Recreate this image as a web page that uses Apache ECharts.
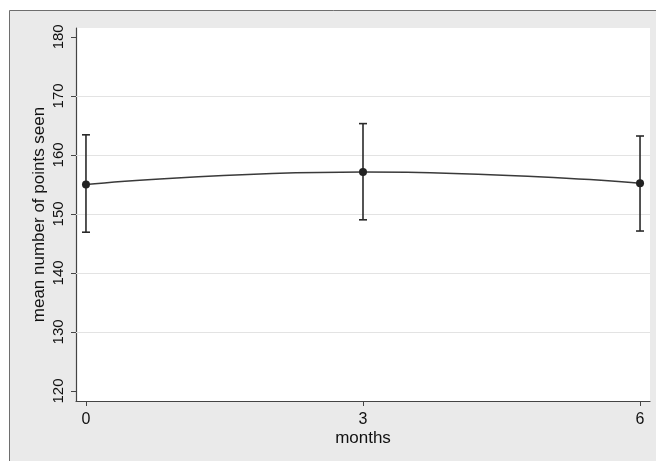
<!DOCTYPE html>
<html><head><meta charset="utf-8">
<script src="https://cdn.jsdelivr.net/npm/echarts@6/dist/echarts.min.js"></script>
<style>html,body{margin:0;padding:0;background:#fff}#c{width:656px;height:461px}</style>
</head><body><div id="c"></div>
<script>
const months = [0, 3, 6];
const meanValues = [155.0, 157.1, 155.2];
const lowerCI = [146.9, 149.0, 147.1];
const upperCI = [163.4, 165.3, 163.2];
const yTicks = [120, 130, 140, 150, 160, 170, 180];
const yGridLines = [130, 140, 150, 160, 170];
const xTicks = [0, 3, 6];

const chart = echarts.init(document.getElementById('c'));
const ff = '"Liberation Sans", Arial, sans-serif';
chart.setOption({
  animation: false,
  backgroundColor: '#fff',
  graphic: [{
    type: 'rect', z: -10, silent: true,
    shape: {x: 9.5, y: 10.5, width: 660, height: 460},
    style: {fill: '#eaeaea', stroke: '#6e6e6e', lineWidth: 1}
  }],
  grid: {left: 76, top: 28, right: 6, bottom: 60, show: true, backgroundColor: '#fff', borderWidth: 0},
  xAxis: {
    type: 'value', min: -0.108, max: 6.108,
    name: 'months', nameLocation: 'middle', nameGap: 29, nameMoveOverlap: false,
    nameTextStyle: {fontFamily: ff, fontSize: 17, color: '#111'},
    axisLine: {show: true, onZero: false, lineStyle: {color: '#444', width: 1.2}},
    axisTick: {show: true, customValues: xTicks, length: 5, lineStyle: {color: '#444'}},
    axisLabel: {customValues: xTicks, fontFamily: ff, fontSize: 16, color: '#111', margin: 11},
    splitLine: {show: false}
  },
  yAxis: {
    type: 'value', min: 118.3, max: 181.5,
    name: 'mean number of points seen', nameLocation: 'middle', nameGap: 28, nameRotate: 90,
    nameMoveOverlap: false,
    nameTextStyle: {fontFamily: ff, fontSize: 17, color: '#111'},
    axisLine: {show: true, onZero: false, lineStyle: {color: '#444', width: 1.2}},
    axisTick: {show: true, customValues: yTicks, length: 5, lineStyle: {color: '#444'}},
    axisLabel: {customValues: yTicks, rotate: 90, fontFamily: ff, fontSize: 15, color: '#111', margin: 10},
    splitLine: {show: false}
  },
  series: [
    {
      type: 'line', smooth: true, symbol: 'circle', symbolSize: 8,
      data: months.map((m, i) => [m, meanValues[i]]),
      lineStyle: {color: '#3a3a3a', width: 1.5},
      itemStyle: {color: '#222'},
      z: 5,
      markLine: {
        silent: true, symbol: 'none', label: {show: false},
        lineStyle: {color: '#e3e3e3', width: 1.2, type: 'solid'},
        data: yGridLines.map(v => ({yAxis: v})),
        z: 1
      }
    },
    {
      type: 'custom', z: 4,
      data: months.map((m, i) => [m, lowerCI[i], upperCI[i]]),
      renderItem: function (params, api) {
        const lo = api.coord([api.value(0), api.value(1)]);
        const hi = api.coord([api.value(0), api.value(2)]);
        const w = 4;
        const st = {stroke: '#2a2a2a', lineWidth: 1.6};
        return {type: 'group', children: [
          {type: 'line', shape: {x1: lo[0], y1: lo[1], x2: hi[0], y2: hi[1]}, style: st},
          {type: 'line', shape: {x1: lo[0] - w, y1: lo[1], x2: lo[0] + w, y2: lo[1]}, style: st},
          {type: 'line', shape: {x1: hi[0] - w, y1: hi[1], x2: hi[0] + w, y2: hi[1]}, style: st}
        ]};
      }
    }
  ]
});
</script></body></html>
